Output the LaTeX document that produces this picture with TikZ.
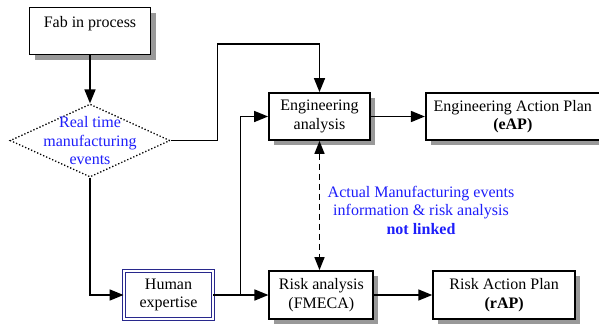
\documentclass[tikz,border=0pt]{standalone}
\usepackage{fontspec}
\setmainfont{Liberation Serif}
\usepackage{tikz}
\usetikzlibrary{shapes.geometric,arrows.meta,positioning,calc,shadows}
\definecolor{evblue}{RGB}{30,30,250}
\definecolor{navy}{RGB}{40,40,140}

\begin{document}
\begin{tikzpicture}[
      x=1pt,y=1pt,
      font=\fontsize{16}{18.5}\selectfont,
      box/.style={rectangle,draw=black,fill=white,line width=1.8pt,
                  align=center,inner sep=2pt,minimum height=47pt,
                  drop shadow={shadow xshift=5pt,shadow yshift=-5pt,
                               fill=black!40,opacity=1}},
      decision/.style={diamond,draw=black,dotted,line width=1.3pt,
                       minimum width=160pt,minimum height=73pt,inner sep=0pt},
      expert/.style={rectangle,draw=navy,double=white,double distance=1.6pt,
                     line width=0.9pt,align=center,
                     minimum width=89pt,minimum height=48pt},
      arr/.style={-{Triangle[length=14pt,width=11pt]},line width=1.6pt},
      dasharr/.style={{Triangle[length=13pt,width=10pt]}-{Triangle[length=13pt,width=10pt]},
                      line width=1.5pt,dash pattern=on 6pt off 4pt}
    ]
      \useasboundingbox (0,0) rectangle (599,-327);

      \node[box,minimum width=121pt] (fab) at (90,-31) {Fab in process\\\mbox{}};
      \node[decision,below=48pt of fab,
            label={[text=evblue,align=center]center:Real time\\manufacturing\\events}] (evt) {};
      \node[box,minimum width=101pt] (eng) at (319.5,-116.5) {Engineering\\analysis};
      \node[box,minimum width=174pt,right=54pt of eng] (eap) {Engineering Action Plan\\\textbf{(eAP)}};
      \node[expert] (hum) at (168.5,-295) {Human\\expertise};
      \node[box,minimum width=104pt,minimum height=48pt,right=55pt of hum] (risk) {Risk analysis\\(FMECA)};
      \node[box,minimum width=142pt,minimum height=48pt,right=58pt of risk] (rap) {Risk Action Plan\\\textbf{(rAP)}};
      \node[text=evblue,align=center] (note) at (421,-210)
            {Actual Manufacturing events\\information \& risk analysis\\\textbf{not linked}};

      \draw[arr] (fab) -- (evt);
      \draw[arr] (evt.east) -- ++(47,0) |- ($(eng.north)+(0,48)$) -- (eng.north);
      \draw[arr] (evt.south) |- (hum.west);
      \draw[arr] (hum.east) -- (risk.west);
      \draw[arr] (hum.east) -- ++(27,0) |- (eng.west);
      \draw[arr] (eng) -- (eap);
      \draw[arr] (risk) -- (rap);
      \draw[dasharr] (eng.south) -- (eng.south |- risk.north);
    \end{tikzpicture}
\end{document}
